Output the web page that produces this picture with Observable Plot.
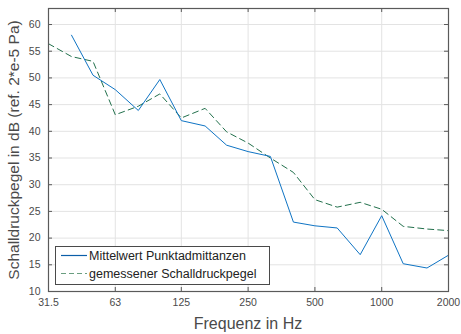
<!DOCTYPE html>
<html>
<head>
<meta charset="utf-8">
<script src="https://cdn.jsdelivr.net/npm/d3@7"></script>
<script src="https://cdn.jsdelivr.net/npm/@observablehq/plot@0.6"></script>
<style>
  html, body { margin: 0; padding: 0; background: #fff; }
  #chart { position: relative; width: 461px; height: 334px; }
</style>
</head>
<body>
<div id="chart"></div>
<script>
// Data
const freqMittel = [40, 50, 63, 80, 100, 125, 160, 200, 250, 315, 400, 500, 630, 800, 1000, 1250, 1600, 2000];
const mittelwert = [58.0, 50.5, 47.8, 43.9, 49.7, 42.0, 41.0, 37.4, 36.2, 35.3, 23.0, 22.3, 21.9, 16.9, 24.2, 15.2, 14.4, 16.8];
const freqGemessen = [31.5, 40, 50, 63, 80, 100, 125, 160, 200, 250, 315, 400, 500, 630, 800, 1000, 1250, 1600, 2000];
const gemessen = [56.4, 54.0, 53.1, 43.1, 44.7, 47.0, 42.5, 44.3, 39.9, 37.8, 35.0, 32.3, 27.2, 25.8, 26.7, 25.4, 22.2, 21.7, 21.4];
const xTicks = [31.5, 63, 125, 250, 500, 1000, 2000];
const xTickLabels = ["31.5", "63", "125", "250", "500", "1000", "2000"];
const yTicks = [10, 15, 20, 25, 30, 35, 40, 45, 50, 55, 60];
const seriesNames = ["Mittelwert Punktadmittanzen", "gemessener Schalldruckpegel"];
const xLabel = "Frequenz in Hz";
const yLabel = "Schalldruckpegel in dB (ref. 2*e-5 Pa)";

const mittelData = freqMittel.map((f, i) => ({f, v: mittelwert[i]}));
const gemData = freqGemessen.map((f, i) => ({f, v: gemessen[i]}));
const xTickData = xTicks.map((f, i) => ({f, label: xTickLabels[i]}));

const blue = "#0f74c4";
const green = "#22704c";
const axisColor = "#5a5a5a";
const textColor = "#4a4a4a";
const font = "Liberation Sans, Arial, sans-serif";
const xMin = 31.5, xMax = 2000, yMin = 10, yMax = 63;
const tickFracX = Math.pow(xMax / xMin, 4 / 400); // 4px inward tick on log axis
const tickY = 4 * (yMax - yMin) / 283;           // 4px inward tick on linear axis

const plot = Plot.plot({
  width: 461,
  height: 334,
  marginLeft: 48,
  marginRight: 13,
  marginTop: 8,
  marginBottom: 43,
  style: {fontFamily: font, background: "#fff", overflow: "visible"},
  x: {type: "log", domain: [xMin, xMax], axis: null},
  y: {domain: [yMin, yMax], axis: null},
  marks: [
    Plot.gridX(xTicks, {stroke: "#e3e3e3", strokeOpacity: 1}),
    Plot.gridY(yTicks, {stroke: "#e3e3e3", strokeOpacity: 1}),
    Plot.line(gemData, {x: "f", y: "v", stroke: green, strokeWidth: 1, strokeDasharray: "6,4"}),
    Plot.line(mittelData, {x: "f", y: "v", stroke: blue, strokeWidth: 1}),
    Plot.ruleX(xTicks, {x: d => d, y1: yMin, y2: yMin + tickY, stroke: axisColor}),
    Plot.ruleX(xTicks, {x: d => d, y1: yMax - tickY, y2: yMax, stroke: axisColor}),
    Plot.ruleY(yTicks, {y: d => d, x1: xMin, x2: xMin * tickFracX, stroke: axisColor}),
    Plot.ruleY(yTicks, {y: d => d, x1: xMax / tickFracX, x2: xMax, stroke: axisColor}),
    Plot.text(xTickData, {x: "f", text: "label", frameAnchor: "bottom", dy: 11, lineAnchor: "middle", fontSize: 10.5, fill: textColor}),
    Plot.text(yTicks, {y: d => d, text: d => String(d), frameAnchor: "left", dx: -8, textAnchor: "end", fontSize: 10.5, fill: textColor}),
    Plot.frame({stroke: axisColor, strokeWidth: 1.2})
  ]
});

document.getElementById("chart").appendChild(plot);

const svg = d3.select(plot);
// Axis labels
svg.append("text")
  .attr("x", 248).attr("y", 328.5)
  .attr("text-anchor", "middle")
  .attr("font-family", font).attr("font-size", 16)
  .attr("fill", textColor)
  .text(xLabel);
svg.append("text")
  .attr("transform", "translate(19,150) rotate(-90)")
  .attr("text-anchor", "middle")
  .attr("font-family", font).attr("font-size", 15.5)
  .attr("fill", textColor)
  .text(yLabel);

// Legend
const lg = svg.append("g");
lg.append("rect").attr("x", 55.5).attr("y", 246.5).attr("width", 214).attr("height", 38)
  .attr("fill", "#fff").attr("stroke", "#4a4a4a").attr("stroke-width", 1);
const rows = [
  {name: seriesNames[0], color: "#0b5ea8", dash: null, y: 255.5},
  {name: seriesNames[1], color: "#6a9e80", dash: "5,3", y: 273.5}
];
rows.forEach(r => {
  const ln = lg.append("line").attr("x1", 61).attr("x2", 87).attr("y1", r.y).attr("y2", r.y)
    .attr("stroke", r.color).attr("stroke-width", 1.2);
  if (r.dash) ln.attr("stroke-dasharray", r.dash);
  lg.append("text").attr("x", 89).attr("y", r.y + 4.5)
    .attr("text-anchor", "start")
    .attr("font-family", font).attr("font-size", 12.5).attr("fill", "#222")
    .text(r.name);
});
</script>
</body>
</html>
